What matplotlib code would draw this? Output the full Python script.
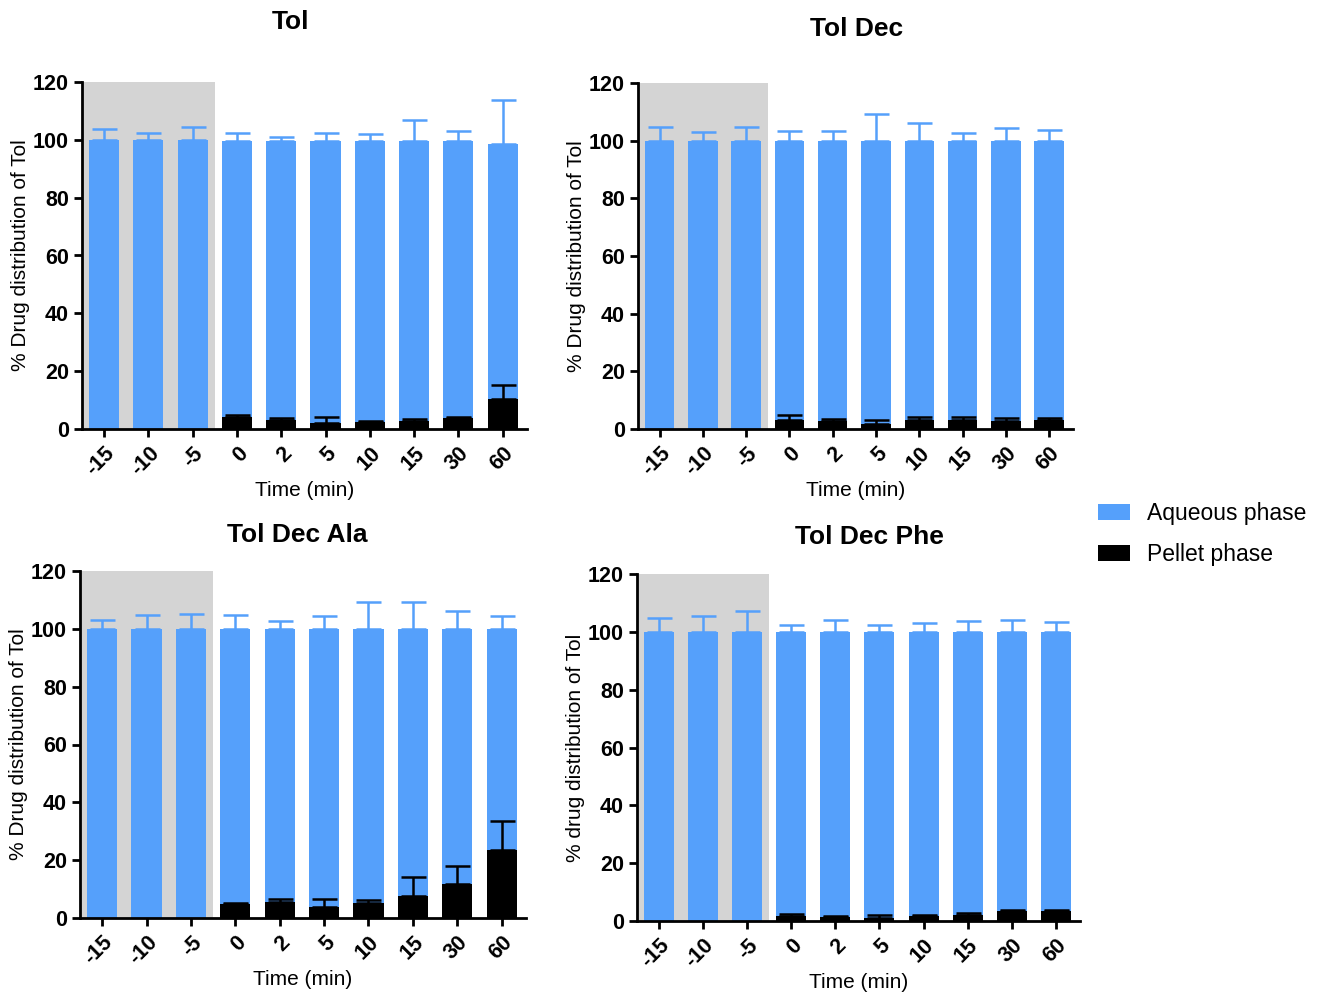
import numpy as np
import matplotlib
matplotlib.use("Agg")
import matplotlib.pyplot as plt
from matplotlib.patches import Patch

plt.rcParams['font.family'] = ['Liberation Sans', 'DejaVu Sans']

time_labels = ["-15", "-10", "-5", "0", "2", "5", "10", "15", "30", "60"]

# Tol
tol_pellet = [0, 0, 0, 4.0, 3.1, 2.0, 2.4, 2.9, 3.7, 10.5]
tol_pellet_err = [0, 0, 0, 0.8, 0.8, 2.0, 0.3, 0.4, 0.6, 4.8]
tol_aqueous = [100, 100, 100, 95.7, 96.6, 97.7, 97.3, 96.8, 96.0, 87.9]
tol_aqueous_err = [3.6, 2.3, 4.5, 2.8, 1.4, 2.8, 2.2, 7.0, 3.3, 15.4]

# Tol Dec
dec_pellet = [0, 0, 0, 3.2, 2.8, 1.7, 3.2, 3.2, 2.8, 3.1]
dec_pellet_err = [0, 0, 0, 1.5, 0.6, 1.5, 1.0, 1.0, 0.9, 0.8]
dec_aqueous = [100, 100, 100, 96.8, 97.2, 98.3, 96.8, 96.8, 97.2, 96.9]
dec_aqueous_err = [4.6, 2.9, 4.9, 3.4, 3.2, 9.1, 6.0, 2.8, 4.3, 3.8]

# Tol Dec Ala
ala_pellet = [0, 0, 0, 4.8, 5.5, 3.8, 5.1, 7.7, 11.9, 23.5]
ala_pellet_err = [0, 0, 0, 0.4, 1.2, 2.9, 1.1, 6.6, 6.2, 10.0]
ala_aqueous = [100, 100, 100, 95.2, 94.5, 96.2, 94.9, 92.3, 88.1, 76.5]
ala_aqueous_err = [3.0, 4.9, 5.0, 4.7, 2.6, 4.6, 9.2, 9.2, 6.1, 4.5]

# Tol Dec Phe
phe_pellet = [0, 0, 0, 1.8, 1.4, 0.9, 1.6, 2.0, 3.5, 3.5]
phe_pellet_err = [0, 0, 0, 0.7, 0.3, 1.2, 0.6, 0.9, 0.3, 0.2]
phe_aqueous = [100, 100, 100, 98.2, 98.6, 99.1, 98.4, 98.0, 96.5, 96.5]
phe_aqueous_err = [4.9, 5.6, 7.1, 2.5, 4.1, 2.3, 3.0, 3.6, 4.0, 3.4]

BLUE = "#55A0FB"
GRAY = "#D4D4D4"
W, H = 1324, 997

fig = plt.figure(figsize=(W / 100, H / 100), dpi=100)


def px_axes(left, right, top, bottom):
    return fig.add_axes([left / W, 1 - bottom / H, (right - left) / W, (bottom - top) / H])


def panel(ax, pellet, pellet_err, aqueous, aqueous_err, ylabel):
    x = np.arange(len(time_labels))
    pellet = np.asarray(pellet, float)
    aqueous = np.asarray(aqueous, float)
    bw = 0.68
    ax.axvspan(-0.5, 2.5, color=GRAY, zorder=0, lw=0)
    ax.bar(x, aqueous, bottom=pellet, width=bw, color=BLUE, zorder=2)
    ax.bar(x, pellet, width=bw, color="black", zorder=3)
    ax.errorbar(x, pellet + aqueous, yerr=[np.zeros_like(aqueous), aqueous_err],
                fmt="none", ecolor=BLUE, elinewidth=1.8, capsize=9, capthick=1.8, zorder=4)
    m = pellet > 0
    ax.errorbar(x[m], pellet[m], yerr=[np.zeros(m.sum()), np.asarray(pellet_err)[m]],
                fmt="none", ecolor="black", elinewidth=1.8, capsize=9, capthick=1.8, zorder=5)
    ax.set_xlim(-0.5, 9.55)
    ax.set_ylim(0, 120)
    ax.set_yticks(range(0, 121, 20))
    ax.set_xticks(x)
    ax.set_xticklabels(time_labels, rotation=45, ha="right", rotation_mode="anchor",
                       fontsize=15.5, fontweight="bold")
    for lab in ax.get_yticklabels():
        lab.set_fontsize(15.5)
        lab.set_fontweight("bold")
    for s in ("top", "right"):
        ax.spines[s].set_visible(False)
    for s in ("left", "bottom"):
        ax.spines[s].set_linewidth(2)
    ax.tick_params(axis="both", width=2, length=6, direction="out")
    ax.tick_params(axis="x", pad=4)
    ax.set_xlabel("Time (min)", fontsize=15, labelpad=1)
    ax.set_ylabel(ylabel, fontsize=15, labelpad=2)


ax1 = px_axes(82, 527, 82, 429)
panel(ax1, tol_pellet, tol_pellet_err, tol_aqueous, tol_aqueous_err, "% Drug distribution of Tol")
ax2 = px_axes(638, 1073, 83, 429)
panel(ax2, dec_pellet, dec_pellet_err, dec_aqueous, dec_aqueous_err, "% Drug distribution of Tol")
ax3 = px_axes(80, 526, 571, 918)
panel(ax3, ala_pellet, ala_pellet_err, ala_aqueous, ala_aqueous_err, "% Drug distribution of Tol")
ax4 = px_axes(637, 1080, 574, 921)
panel(ax4, phe_pellet, phe_pellet_err, phe_aqueous, phe_aqueous_err, "% drug distribution of Tol")

titles = [("Tol", 291, 22), ("Tol Dec", 857, 29), ("Tol Dec Ala", 297, 535), ("Tol Dec Phe", 869, 537)]
for t, cx, cy in titles:
    fig.text(cx / W, 1 - cy / H, t, ha="center", va="center", fontsize=19, fontweight="bold")

handles = [Patch(facecolor=BLUE, label="Aqueous phase"), Patch(facecolor="black", label="Pellet phase")]
fig.legend(handles=handles, loc="center left", bbox_to_anchor=(1098 / W, 1 - 534 / H),
           frameon=False, fontsize=16.5, handlelength=1.4, handleheight=0.7,
           handletextpad=0.75, labelspacing=0.8, borderpad=0, borderaxespad=0)

fig.savefig("out.png", dpi=100)
